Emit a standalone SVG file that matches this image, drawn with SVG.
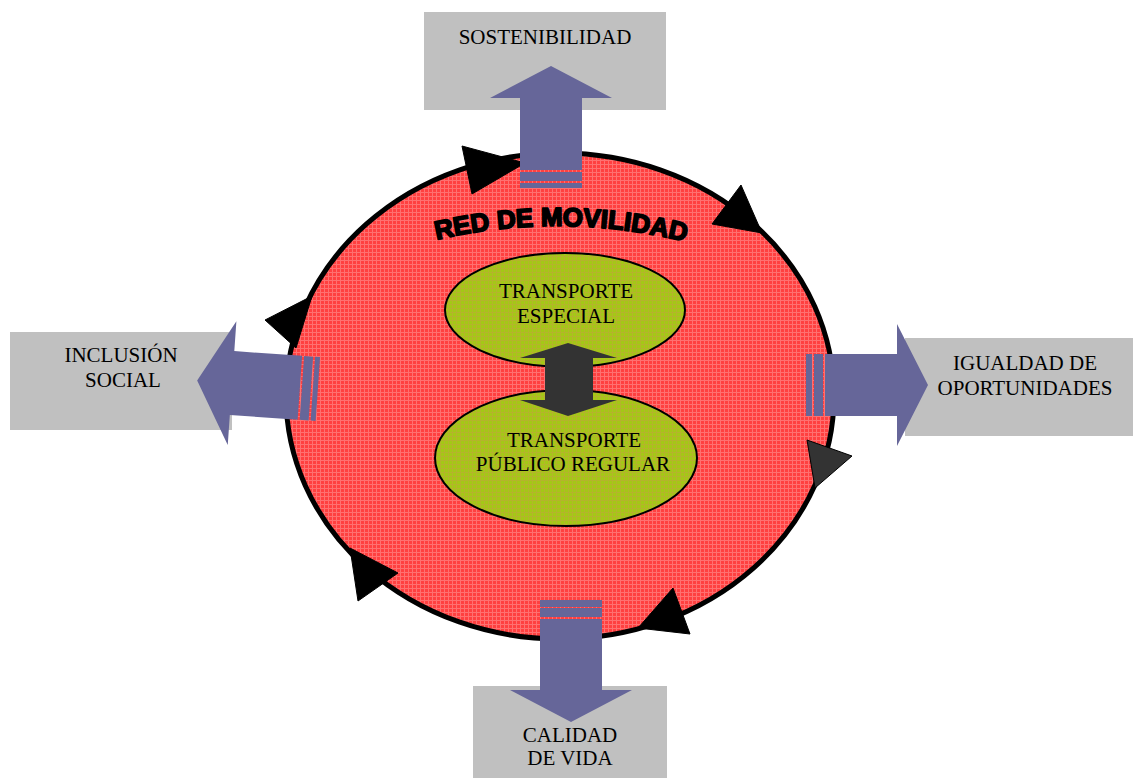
<svg xmlns="http://www.w3.org/2000/svg" width="1133" height="778" viewBox="0 0 1133 778">
  <defs>
    <pattern id="redgrid" width="4" height="4" patternUnits="userSpaceOnUse">
      <rect width="4" height="4" fill="#FF4040"/>
      <rect x="0" y="0" width="4" height="1" fill="#FF7070"/>
      <rect x="0" y="0" width="1" height="4" fill="#FF7070"/>
    </pattern>
    <pattern id="olivegrid" width="4" height="4" patternUnits="userSpaceOnUse">
      <rect width="4" height="4" fill="#A4C816"/>
      <rect x="0" y="0" width="4" height="1" fill="#B4B42C"/>
      <rect x="0" y="0" width="1" height="4" fill="#B4B42C"/>
    </pattern>
    <path id="arcText" d="M 431 241 Q 560 210 691 243"/>
  </defs>
  <style>
    .box { fill: #C0C0C0; }
    .lbl { font-family: "Liberation Serif", "Times New Roman", serif; font-size: 21px; fill: #000; text-anchor: middle; }
    .purple { fill: #666699; }
    .tri { fill: #000; stroke: #000; stroke-width: 1; stroke-linejoin: miter; }
    .inner { fill: url(#olivegrid); stroke: #000; stroke-width: 2; }
    .title { font-family: "Liberation Sans", Arial, sans-serif; font-weight: bold; font-size: 26px; fill: #000; stroke: #000; stroke-width: 1.8; stroke-linejoin: round; }
  </style>

  <!-- outer boxes -->
  <g id="node-sostenibilidad">
    <rect class="box" x="424" y="12" width="242" height="98"/>
    <text class="lbl" x="545" y="44">SOSTENIBILIDAD</text>
  </g>
  <g id="node-inclusion">
    <rect class="box" x="10" y="332" width="222" height="98"/>
    <text class="lbl" x="121" y="362">INCLUSIÓN</text>
    <text class="lbl" x="123" y="387">SOCIAL</text>
  </g>
  <g id="node-igualdad">
    <rect class="box" x="905" y="338" width="228" height="98"/>
    <text class="lbl" x="1025" y="370">IGUALDAD DE</text>
    <text class="lbl" x="1025" y="395">OPORTUNIDADES</text>
  </g>
  <g id="node-calidad">
    <rect class="box" x="473" y="686" width="194" height="92"/>
    <text class="lbl" x="570" y="742">CALIDAD</text>
    <text class="lbl" x="570" y="765">DE VIDA</text>
  </g>

  <!-- main network ellipse -->
  <g id="node-red">
    <ellipse cx="560" cy="396" rx="274" ry="243" fill="url(#redgrid)" stroke="#000" stroke-width="5"/>
    <text class="title"><textPath href="#arcText" startOffset="50%" text-anchor="middle">RED DE MOVILIDAD</textPath></text>
  </g>

  <!-- circulation arrowheads -->
  <g id="cycle">
    <polygon class="tri" points="462,146 472,194 525,163"/>
    <polygon class="tri" points="741,185 712,224 762,233"/>
    <polygon class="tri" style="fill:#333333" points="807,440 852,456 815,488"/>
    <polygon class="tri" points="673,588 690,634 638,628"/>
    <polygon class="tri" points="350,548 398,573 358,601"/>
    <polygon class="tri" points="265,320 312,296 296,348"/>
  </g>

  <!-- inner nodes -->
  <g id="node-especial">
    <ellipse class="inner" cx="565" cy="310" rx="120" ry="57"/>
    <text class="lbl" x="566" y="298">TRANSPORTE</text>
    <text class="lbl" x="566" y="323">ESPECIAL</text>
  </g>
  <g id="node-regular">
    <ellipse class="inner" cx="566" cy="458" rx="131" ry="68"/>
    <text class="lbl" x="574" y="447">TRANSPORTE</text>
    <text class="lbl" x="573" y="471">PÚBLICO REGULAR</text>
  </g>

  <!-- connectors -->
  <g id="connectors">
    <polygon fill="#333333" points="568,343 617,358 593,358 593,400 617,400 568,416 520,400 545,400 545,358 520,358"/>

    <g id="arrow-up">
      <polygon class="purple" points="551,66 612,98 582,98 582,170 520,170 520,98 490,98"/>
      <rect class="purple" x="520" y="172" width="62" height="9"/>
      <rect class="purple" x="520" y="183" width="62" height="5"/>
    </g>

    <g id="arrow-left" transform="rotate(4 260 385)">
      <polygon class="purple" points="197,385 232,323 232,353 300,353 300,417 232,417 232,447"/>
      <rect class="purple" x="302" y="353" width="9" height="64"/>
      <rect class="purple" x="313" y="353" width="5" height="64"/>
    </g>

    <g id="arrow-right">
      <polygon class="purple" points="928,385 897,446 897,416 825,416 825,354 897,354 897,324"/>
      <rect class="purple" x="806" y="354" width="6" height="62"/>
      <rect class="purple" x="814" y="354" width="9" height="62"/>
    </g>

    <g id="arrow-down">
      <rect class="purple" x="540" y="600" width="62" height="7"/>
      <rect class="purple" x="540" y="608" width="62" height="9"/>
      <polygon class="purple" points="540,619 602,619 602,690 632,690 571,722 510,690 540,690"/>
    </g>
  </g>
</svg>
